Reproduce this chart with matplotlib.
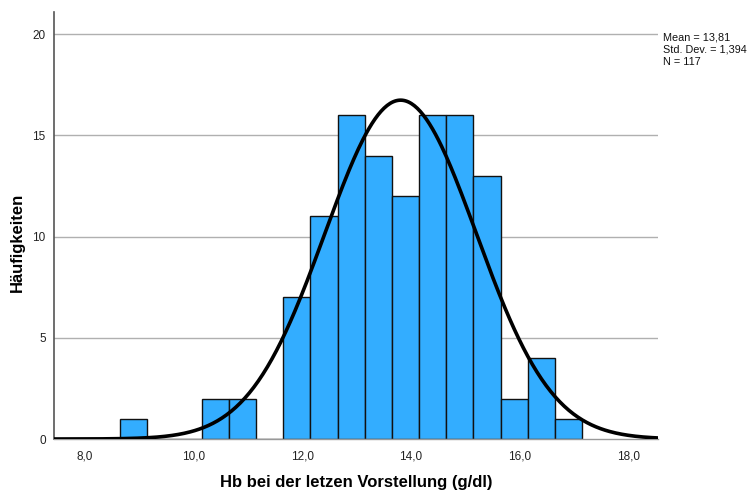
import matplotlib

matplotlib.use("Agg")
import matplotlib.pyplot as plt
import numpy as np
from matplotlib.ticker import FuncFormatter

# histogram bins (SPSS style), left edge of first bin and width
bin_start = 8.65
bin_width = 0.5
counts = [1, 0, 0, 2, 2, 0, 7, 11, 16, 14, 12, 16, 16, 13, 2, 4, 1]

mean = 13.81
std = 1.394
n = 117

x_ticks = [8, 10, 12, 14, 16, 18]
y_ticks = [0, 5, 10, 15, 20]

plt.rcParams["font.family"] = ["Liberation Sans", "DejaVu Sans"]

fig = plt.figure(figsize=(7.53, 4.92), dpi=100)
ax = fig.add_axes([0.0717, 0.1077, 0.8023, 0.868])

lefts = bin_start + bin_width * np.arange(len(counts))
ax.bar(lefts, counts, width=bin_width, align="edge", color="#33adff",
       edgecolor="#111111", linewidth=1.0, zorder=2)

xs = np.linspace(7.43, 18.55, 400)
ys = n * bin_width / (std * np.sqrt(2 * np.pi)) * np.exp(-0.5 * ((xs - mean) / std) ** 2)
ax.plot(xs, ys, color="black", linewidth=2.6, zorder=3, solid_capstyle="round")

ax.set_xlim(7.43, 18.55)
ax.set_ylim(0, 21.1)
ax.set_xticks(x_ticks)
ax.set_yticks(y_ticks)
ax.xaxis.set_major_formatter(FuncFormatter(lambda v, p: f"{v:.1f}".replace(".", ",")))
ax.tick_params(length=0, labelsize=8.5, colors="#222222")
ax.tick_params(axis="x", pad=8)
ax.tick_params(axis="y", pad=6)

for y in y_ticks[1:]:
    ax.axhline(y, color="#b0b0b0", linewidth=1.0, zorder=1)

for side in ["top", "right"]:
    ax.spines[side].set_visible(False)
ax.spines["left"].set_color("#555555")
ax.spines["left"].set_linewidth(1.2)
ax.spines["bottom"].set_color("#999999")
ax.spines["bottom"].set_linewidth(1.0)

ax.set_xlabel("Hb bei der letzen Vorstellung (g/dl)", fontsize=12, fontweight="bold", labelpad=9)
ax.set_ylabel("Häufigkeiten", fontsize=12, fontweight="bold")
ax.yaxis.set_label_coords(-0.048, 0.46)

stats_text = f"Mean = {mean:.2f}\nStd. Dev. = {std:.3f}\nN = {n}".replace(".", ",")
stats_text = stats_text.replace("Std, Dev,", "Std. Dev.")
fig.text(663 / 753, 1 - 32 / 492, stats_text, fontsize=7.8, va="top", ha="left",
         linespacing=1.3, color="#111111")

fig.savefig("out.png", dpi=100)
